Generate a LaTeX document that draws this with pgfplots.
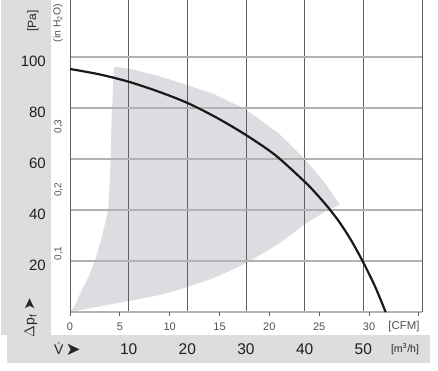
\documentclass[border=0pt]{standalone}
\usepackage{fontspec}
\setmainfont{Liberation Sans}
\newfontfamily\dejavu{DejaVu Sans}
\usepackage{pgfplots}
\pgfplotsset{compat=1.18}
\definecolor{bandgray}{RGB}{221,221,222}
\definecolor{areagray}{RGB}{220,221,224}
\definecolor{vgrid}{RGB}{95,95,95}
\definecolor{hgrid}{RGB}{178,178,178}
\definecolor{lbl}{RGB}{80,80,80}
\definecolor{curve}{RGB}{25,25,25}
\newcommand\fs[1]{\fontsize{#1}{#1}\selectfont}
\pgfplotsset{base/.style={at={(70pt,-312pt)}, anchor=south west, scale only axis,
  width=352pt, height=312pt, clip=false}}
\begin{document}
\begin{tikzpicture}
\fill[bandgray] (1pt,0pt) rectangle (51pt,-335pt);
\fill[bandgray] (7pt,-335pt) rectangle (430pt,-363pt);
% operating area + grid (grid on top of the area)
\begin{axis}[base, axis on top,
  xmin=0, xmax=60, ymin=0, ymax=122.35,
  axis lines*=left, axis line style={draw=none},
  major tick length=0pt,
  xtick={10,20,30,40,50}, xticklabels={},
  ytick={0,20,40,60,80,100}, yticklabels={},
  xmajorgrids, ymajorgrids,
  x grid style={vgrid, line width=0.9pt},
  y grid style={hgrid, line width=1.4pt}]
\addplot[fill=areagray, draw=none] coordinates {
 (0,0) (0.7,2) (2,8.6) (3.2,14) (4.25,20) (5.5,30) (6.5,40) (6.8,52) (6.95,62)
 (7.1,76.6) (7.5,96.2) (10,95.5) (15,92.6) (20,89) (24.4,85.6) (30,79.4)
 (35.7,69.8) (40,60) (43.6,50.2) (46,42) (43.9,40) (39.8,34.1) (35.7,26.9)
 (30,19.1) (24.4,13.2) (18.7,8.8) (15,6.5) (10,4.3) (5,2.2) (0,0)} -- cycle;
\end{axis}
% curve, Pa and m3/h labels
\begin{axis}[base,
  xmin=0, xmax=60, ymin=0, ymax=122.35,
  axis lines*=left, axis line style={draw=none},
  major tick length=0pt,
  xtick={10,20,30,40,50}, xticklabels={10,20,30,40,50},
  ytick={20,40,60,80,100}, yticklabels={20,40,60,80,100},
  xticklabel style={anchor=north, inner sep=0pt, yshift=-31.5pt, font=\fs{15.5}, text=black!88},
  yticklabel style={anchor=east, inner sep=0pt, xshift=-24pt, yshift=-4pt, font=\fs{15}, text=black!88}]
\draw[vgrid, line width=0.9pt] (axis cs:0,0) -- (axis cs:0,122.35);
\draw[vgrid, line width=0.9pt] (axis cs:60,0) -- (axis cs:60,122.35);
\addplot[curve, line width=2.2pt, smooth] coordinates {
 (0,95.3) (5,93.2) (10,90.3) (15,86.5) (20,82) (25,76.2) (30,69.4) (35,61.5)
 (40,51.1) (42,46.3) (44,41) (46,35) (48,27.8) (50,19.4) (52,10) (53.8,0)};
\node[rotate=90, font=\fs{10}, text=lbl] at ([xshift=-11.5pt,yshift=-5pt]axis cs:0,24.91) {0,1};
\node[rotate=90, font=\fs{10}, text=lbl] at ([xshift=-11.5pt,yshift=-5pt]axis cs:0,49.82) {0,2};
\node[rotate=90, font=\fs{10}, text=lbl] at ([xshift=-11.5pt,yshift=-5pt]axis cs:0,74.73) {0,3};
\end{axis}
% CFM scale
\begin{axis}[base,
  xmin=0, xmax=35.315, ymin=0, ymax=1,
  axis x line*=bottom, axis y line=none, axis line style={draw=none},
  xtick={0,5,10,15,20,25,30,35}, xticklabels={0,5,10,15,20,25,30,{}},
  tick align=outside, major tick length=4pt,
  xtick style={vgrid, line width=0.8pt},
  xticklabel style={anchor=north, inner sep=0pt, yshift=-7pt, font=\fs{11}, text=lbl}]
\end{axis}
\node[rotate=90, font=\fs{12}, text=black!85] at (33pt,-21pt) {[Pa]};
\node[rotate=90, font=\fs{10.4}, text=lbl] at (58pt,-23pt) {(in H\textsubscript{2}O)};
\node[rotate=90, font=\fs{14}, text=black!85, inner sep=0pt] at (31pt,-317.5pt) {$\Delta$p\textsubscript{f}\hspace{4pt}{\dejavu\fs{15}➤}};
\node[anchor=west, font=\fs{14}, text=black!85, inner sep=0pt] at (54pt,-349pt) {\.{V}\hspace{2pt}{\dejavu\fs{18}\raisebox{-0.5pt}{➤}}};
\node[font=\fs{11.4}, text=lbl] at (404pt,-327pt) {[CFM]};
\node[font=\fs{10.5}, text=black!85] at (405pt,-349.5pt) {[m\textsuperscript{3}/h]};
\pgfresetboundingbox
\path[use as bounding box] (0pt,0pt) rectangle (438pt,-370pt);
\end{tikzpicture}
\end{document}
